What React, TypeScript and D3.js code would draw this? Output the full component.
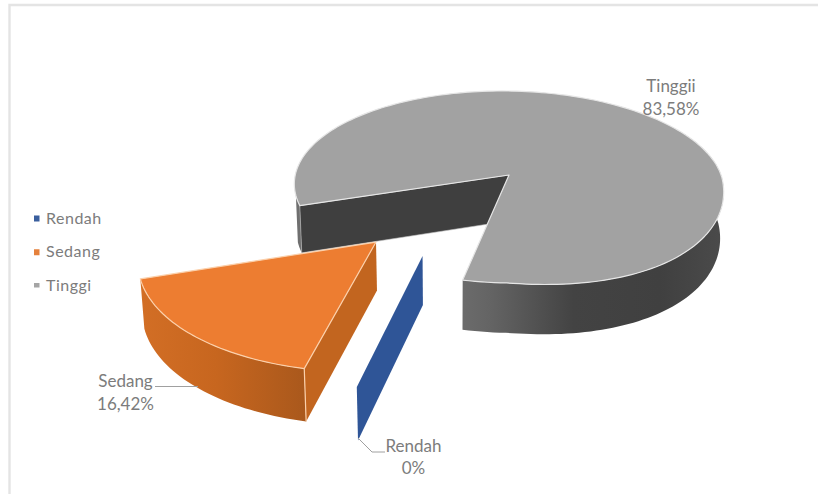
import React from "react";
import * as d3 from "d3";

// Share of respondents per category, in percent
const categories = ["Rendah", "Sedang", "Tinggi"];
const shares = [0, 16.42, 83.58];
const shareLabels = ["0%", "16,42%", "83,58%"];
const calloutNames = ["Rendah", "Sedang", "Tinggii"];
const topColors = ["#2f5597", "#ed7d31", "#a2a2a2"];
const rimColors = ["#2f5597", "#fbd0ab", "#e6e6e6"];
const legendColors = ["#3a5f9e", "#e5813c", "#a5a5a5"];

// Pull-out of each slice, in pie radii
const explode = [0.866, 0.88, 0];
const explodeTurn = [14, 0, 0];

const FIRST_SLICE = 191;
const rad = (deg: number) => (deg * Math.PI) / 180;

// Perspective view of the pie disc and its extruded base
const cx = 509, cy = 175, rx = 213, ry = 94.5, persp = 0.125, tilt = 3, nearBulge = 16;
const depth = 46, vanishX = 450, baseShrink = 0.987;

type Pt = [number, number];
const plane = (X: number, Z: number, low: boolean): Pt => {
  const s = 1 / (1 - persp * Z);
  const x = cx + rx * X * s;
  // The near right quarter of the disc sits a little lower in this view
  const bulge = X > 0 && Z > 0 ? nearBulge * X * Z : 0;
  const y = cy + ry * Z * s + tilt * X * s + bulge;
  return low ? [vanishX + (x - vanishX) * baseShrink, y + depth * Math.pow(s, 0.6)] : [x, y];
};

const arcs = d3.pie<number>().sort(null).startAngle(rad(FIRST_SLICE)).endAngle(rad(FIRST_SLICE + 360))(shares);

const offsetOf = (i: number): Pt => {
  const mid = (arcs[i].startAngle + arcs[i].endAngle) / 2 + rad(explodeTurn[i]);
  return [Math.sin(mid) * explode[i], -Math.cos(mid) * explode[i]];
};

const rimPoint = (i: number, a: number, low: boolean): Pt => {
  const [ox, oz] = offsetOf(i);
  return plane(ox + Math.sin(a), oz - Math.cos(a), low);
};
const hub = (i: number, low: boolean): Pt => {
  const [ox, oz] = offsetOf(i);
  return plane(ox, oz, low);
};
const sweep = (i: number, from: number, to: number, low: boolean): Pt[] => {
  const n = Math.max(2, Math.ceil(Math.abs(to - from) / rad(1.5)));
  return d3.range(n + 1).map((k) => rimPoint(i, from + ((to - from) * k) / n, low));
};

const closed = d3.line<Pt>().x((p) => p[0]).y((p) => p[1]);
const path = (pts: Pt[]) => closed(pts) + "Z";

const topFace = (i: number) =>
  path([hub(i, false), ...sweep(i, arcs[i].startAngle, arcs[i].endAngle, false)]);
const outerWall = (i: number, from: number, to: number) =>
  path([...sweep(i, from, to, false), ...sweep(i, from, to, true).reverse()]);
const radialWall = (i: number, a: number) =>
  path([hub(i, false), rimPoint(i, a, false), rimPoint(i, a, true), hub(i, true)]);

const font = "Lato, Carlito, sans-serif";
const textColor = "#7c7c7c";
const legendY = d3.scalePoint<string>().domain(categories).range([218.5, 286]);

const [rendah, sedang, tinggi] = [0, 1, 2];

export default function App() {
  const wedgeStart = arcs[tinggi].startAngle;
  return (
    <svg
      width={818}
      height={494}
      style={{ position: "absolute", left: 0, top: 0, background: "#fff" }}
      fontFamily={font}
    >
      <defs>
        <linearGradient id="wallGrey" gradientUnits="userSpaceOnUse" x1={464} x2={725} y1={0} y2={0}>
          <stop offset="0" stopColor="#6b6b6b" />
          <stop offset="0.1" stopColor="#646464" />
          <stop offset="0.42" stopColor="#434343" />
          <stop offset="0.75" stopColor="#404040" />
          <stop offset="1" stopColor="#4b4b4b" />
        </linearGradient>
        <linearGradient id="wallOrange" gradientUnits="userSpaceOnUse" x1={142} x2={307} y1={0} y2={0}>
          <stop offset="0" stopColor="#d26e25" />
          <stop offset="0.45" stopColor="#c7661f" />
          <stop offset="1" stopColor="#a9581c" />
        </linearGradient>
      </defs>

      {/* Chart frame */}
      <path d="M9.5 494V5H818" fill="none" stroke="#e4e4e4" strokeWidth={2.4} />

      {/* Large slice */}
      <path d={outerWall(tinggi, wedgeStart, rad(256))} fill="#6f6f6f" />
      <path d={radialWall(tinggi, wedgeStart)} fill="#3f3f3f" stroke="#bdbdbd" strokeWidth={0.6} />
      <path d={outerWall(tinggi, rad(60 + 360), arcs[tinggi].endAngle)} fill="url(#wallGrey)" />
      <path d={topFace(tinggi)} fill={topColors[tinggi]} stroke={rimColors[tinggi]} strokeWidth={1.2} strokeLinejoin="round" />

      {/* Zero-width slice, only its wall shows */}
      <path d={radialWall(rendah, arcs[rendah].startAngle)} fill={topColors[rendah]} />

      {/* Pulled-out slice */}
      <path d={outerWall(sedang, arcs[sedang].startAngle, arcs[sedang].endAngle)} fill="url(#wallOrange)" />
      <path d={radialWall(sedang, arcs[sedang].startAngle)} fill="#c2651f" />
      <path
        d={path([rimPoint(sedang, arcs[sedang].startAngle, false), rimPoint(sedang, arcs[sedang].startAngle, true)])}
        stroke={rimColors[sedang]}
        strokeWidth={1.2}
        fill="none"
      />
      <path d={topFace(sedang)} fill={topColors[sedang]} stroke={rimColors[sedang]} strokeWidth={1.2} strokeLinejoin="round" />

      {/* Legend */}
      {categories.map((c, i) => (
        <g key={c}>
          <rect
            x={34}
            y={legendY(c)! - 3}
            width={5.5}
            height={i === 2 ? 4.5 : 6}
            fill={legendColors[i]}
          />
          <text x={46} y={legendY(c)! + 5} fontSize={16} letterSpacing={0.5} fill={textColor}>
            {c}
          </text>
        </g>
      ))}

      {/* Leader lines */}
      <g fill="none" stroke="#a0a0a0" strokeWidth={1}>
        <path d="M155 386.5H198" />
        <path d="M358 438L372 452H385" />
      </g>

      {/* Callouts */}
      <g fontSize={17} fill={textColor} textAnchor="middle">
        <text x={671} y={92}>{calloutNames[tinggi]}</text>
        <text x={671} y={114.5}>{shareLabels[tinggi]}</text>
        <text x={125.5} y={387}>{calloutNames[sedang]}</text>
        <text x={125.5} y={409.5}>{shareLabels[sedang]}</text>
        <text x={413.5} y={452}>{calloutNames[rendah]}</text>
        <text x={413.5} y={474}>{shareLabels[rendah]}</text>
      </g>
    </svg>
  );
}
